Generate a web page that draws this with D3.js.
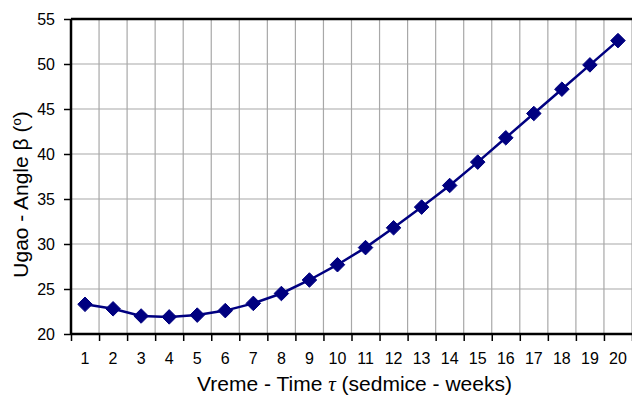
<!DOCTYPE html>
<html>
<head>
<meta charset="utf-8">
<script src="https://cdn.jsdelivr.net/npm/d3@7"></script>
<style>
  body { margin: 0; background: #fff; }
  text { font-family: "Liberation Sans", Arial, sans-serif; fill: #000; }
</style>
</head>
<body>
<div id="chart"></div>
<script>
// Data
var weeks = [1, 2, 3, 4, 5, 6, 7, 8, 9, 10, 11, 12, 13, 14, 15, 16, 17, 18, 19, 20];
var angle = [23.3, 22.8, 22.0, 21.9, 22.1, 22.6, 23.4, 24.5, 26.0, 27.7,
             29.6, 31.8, 34.1, 36.5, 39.1, 41.8, 44.5, 47.2, 49.9, 52.6];
var yTicks = [20, 25, 30, 35, 40, 45, 50, 55];

// Set Up Space
var svgWidth = 632;
var svgHeight = 406;
var margin = { top: 19, right: 0, bottom: 72, left: 71 };
var width = svgWidth - margin.left - margin.right;
var height = svgHeight - margin.top - margin.bottom;

var svg = d3.select("#chart")
  .append("svg")
  .attr("width", svgWidth)
  .attr("height", svgHeight);

var chartGroup = svg.append("g")
  .attr("transform", `translate(${margin.left}, ${margin.top})`);

// Scaling
var xScale = d3.scaleLinear()
  .domain([0.5, weeks.length + 0.5])
  .range([0, width]);
var yScale = d3.scaleLinear()
  .domain([20, 55])
  .range([height, 0]);

var bounds = d3.range(0.5, weeks.length + 1, 1);

// Gridlines
chartGroup.append("g")
  .selectAll("line")
  .data(bounds.slice(1))
  .enter()
  .append("line")
    .attr("x1", d => xScale(d))
    .attr("x2", d => xScale(d))
    .attr("y1", 0)
    .attr("y2", height)
    .attr("stroke", "#a8a8a8")
    .attr("stroke-width", 1.2);

chartGroup.append("g")
  .selectAll("line")
  .data(yTicks.slice(1))
  .enter()
  .append("line")
    .attr("x1", 0)
    .attr("x2", width)
    .attr("y1", d => yScale(d))
    .attr("y2", d => yScale(d))
    .attr("stroke", "#a8a8a8")
    .attr("stroke-width", 1.2);

// top border
chartGroup.append("line")
  .attr("x1", 0).attr("x2", width)
  .attr("y1", 0).attr("y2", 0)
  .attr("stroke", "#000").attr("stroke-width", 2.5);

// Axes
var bottomAxis = d3.axisBottom(xScale)
  .tickValues(bounds)
  .tickSize(7)
  .tickFormat("");
var leftAxis = d3.axisLeft(yScale)
  .tickValues(yTicks)
  .tickSize(7)
  .tickPadding(9);

var xAxisG = chartGroup.append("g")
  .attr("transform", `translate(0, ${height})`)
  .call(bottomAxis);
var yAxisG = chartGroup.append("g")
  .call(leftAxis);

[xAxisG, yAxisG].forEach(function(g) {
  g.select(".domain").attr("stroke", "#000").attr("stroke-width", 2.5);
  g.selectAll(".tick line").attr("stroke", "#000").attr("stroke-width", 1.5);
  g.selectAll("text").style("font-size", "16px").attr("fill", "#000");
});
xAxisG.select(".domain").attr("d", `M0,0H${width}`);
yAxisG.select(".domain").attr("d", `M0,${height}V0`);

// x category labels
chartGroup.append("g")
  .selectAll("text")
  .data(weeks)
  .enter()
  .append("text")
    .attr("x", d => xScale(d))
    .attr("y", height + 30)
    .attr("text-anchor", "middle")
    .style("font-size", "16px")
    .text(d => d);

// Line and markers
var line = d3.line()
  .x((d, i) => xScale(weeks[i]))
  .y(d => yScale(d));

chartGroup.append("path")
  .datum(angle)
  .attr("d", line)
  .attr("fill", "none")
  .attr("stroke", "#000080")
  .attr("stroke-width", 2.5);

chartGroup.selectAll(".pt")
  .data(angle)
  .enter()
  .append("path")
    .attr("class", "pt")
    .attr("d", d3.symbol().type(d3.symbolDiamond2).size(135))
    .attr("transform", (d, i) => `translate(${xScale(weeks[i])}, ${yScale(d)})`)
    .attr("fill", "#000080")
    .attr("stroke", "#000080")
    .attr("stroke-width", 1);

// Create Labels
var yTitle = chartGroup.append("text")
  .attr("transform", `translate(${-margin.left + 28}, ${height / 2 + 18}) rotate(-90)`)
  .attr("text-anchor", "middle")
  .style("font-size", "21px");
yTitle.append("tspan").text("Ugao - Angle  β  (");
yTitle.append("tspan").attr("baseline-shift", "super").style("font-size", "13px").text("o");
yTitle.append("tspan").text(")");

var xTitle = chartGroup.append("text")
  .attr("x", width / 2 + 3)
  .attr("y", height + 57)
  .attr("text-anchor", "middle")
  .style("font-size", "21px");
xTitle.append("tspan").text("Vreme - Time ");
xTitle.append("tspan").style("font-family", "'Liberation Serif', serif").style("font-style", "italic").text("τ");
xTitle.append("tspan").text(" (sedmice - weeks)");
</script>
</body>
</html>
